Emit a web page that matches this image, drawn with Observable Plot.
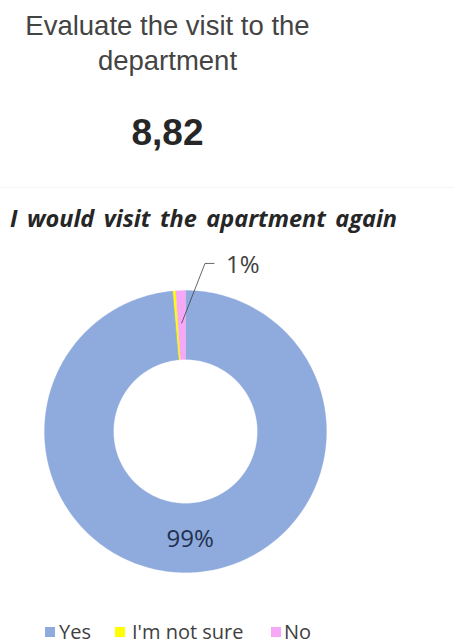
<!DOCTYPE html>
<html>
<head>
<meta charset="utf-8">
<script src="https://cdn.jsdelivr.net/npm/d3@7"></script>
<script src="https://cdn.jsdelivr.net/npm/@observablehq/plot@0.6"></script>
<style>
  html, body { margin: 0; padding: 0; background: #fff; }
  #page { position: relative; width: 454px; height: 644px; overflow: hidden; }
  .abs { position: absolute; white-space: nowrap; }
  #title { left: 0; width: 335px; top: 8px; text-align: center; font: 27.5px "Liberation Sans", Arial, sans-serif; line-height: 35px; color: #444; }
  #score { left: 0; width: 335px; top: 111px; text-align: center; font: bold 37px "Liberation Sans", Arial, sans-serif; line-height: 44px; color: #262626; }
  #rule { left: 0; top: 187px; width: 454px; height: 1px; background: #f4f4f4; }
  #subtitle { left: 10px; top: 202px; font: italic bold 23.5px "Open Sans", sans-serif; line-height: 32px; color: #262626; word-spacing: 3.3px; }
  #chart { left: 0; top: 250px; }
  .leg { position: absolute; font: 20px "Open Sans", sans-serif; color: #404040; line-height: 26px; top: 619px; }
  .sw { position: absolute; width: 10px; height: 10px; top: 627px; }
</style>
</head>
<body>
<div id="page">
  <div id="title" class="abs"></div>
  <div id="score" class="abs"></div>
  <div id="rule" class="abs"></div>
  <div id="subtitle" class="abs"></div>
  <div id="chart" class="abs"></div>
</div>
<script>
// ---- data ----
const titleLines = ["Evaluate the visit to the", "department"];
const scoreText = "8,82";
const subtitleText = "I would visit the apartment again";
const categories = ["Yes", "I'm not sure", "No"];
const values = [98.6, 0.3, 1.1];
const colors = ["#8FAADC", "#FFFF00", "#F6A8F6"];

// ---- header ----
document.getElementById("title").innerHTML = titleLines.join("<br>");
document.getElementById("score").textContent = scoreText;
document.getElementById("subtitle").textContent = subtitleText;

// ---- donut geometry from data ----
const innerR = 72 / 141;
const total = d3.sum(values);
const arcs = d3.pie().sort(null).value(d => d)(values); // starts at 12 o'clock, clockwise
const polar = (a, r) => ({x: r * Math.sin(a), y: r * Math.cos(a)});
const pts = [];
arcs.forEach((a, i) => {
  const n = Math.max(2, Math.ceil((a.endAngle - a.startAngle) / (Math.PI / 180)));
  for (let k = 0; k <= n; k++) {
    const t = a.startAngle + (a.endAngle - a.startAngle) * k / n;
    pts.push({cat: categories[i], ...polar(t, 1)});
  }
  for (let k = n; k >= 0; k--) {
    const t = a.startAngle + (a.endAngle - a.startAngle) * k / n;
    pts.push({cat: categories[i], ...polar(t, innerR)});
  }
});

// labels
const inside = [], outside = [], leaders = [];
arcs.forEach((a, i) => {
  const pct = Math.round(values[i] / total * 100);
  if (pct < 1) return;
  const mid = (a.startAngle + a.endAngle) / 2;
  const frac = (a.endAngle - a.startAngle) / (2 * Math.PI);
  if (frac > 0.1) {
    inside.push({label: pct + "%", ...polar(mid, (1 + innerR) / 2 + 0.01)});
  } else {
    const p0 = polar(mid, 0.77);
    const p1 = polar(mid + 0.15, 1.2);
    const p2 = {x: p1.x + 9 / 141, y: p1.y};
    leaders.push({id: i, ...p0}, {id: i, ...p1}, {id: i, ...p2});
    outside.push({label: pct + "%", x: p1.x + 21 / 141, y: p1.y - 2 / 141});
  }
});

const chart = Plot.plot({
  width: 454,
  height: 340,
  marginLeft: 44,
  marginRight: 128,
  marginTop: 40,
  marginBottom: 18,
  x: {domain: [-1, 1], axis: null},
  y: {domain: [-1, 1], axis: null},
  color: {domain: categories, range: colors},
  style: {background: "transparent", overflow: "visible"},
  marks: [
    Plot.line(pts, {x: "x", y: "y", z: "cat", fill: "cat", stroke: "cat", strokeWidth: 0.3, curve: "linear-closed"}),
    Plot.line(leaders, {x: "x", y: "y", z: "id", stroke: "#404040", strokeWidth: 0.8}),
    Plot.text(inside, {x: "x", y: "y", text: "label", fill: "#22314f", fontSize: 24, fontFamily: "Open Sans, sans-serif"}),
    Plot.text(outside, {x: "x", y: "y", text: "label", fill: "#404040", fontSize: 24, textAnchor: "start", fontFamily: "Open Sans, sans-serif"})
  ]
});
document.getElementById("chart").appendChild(chart);

// ---- legend ----
const page = document.getElementById("page");
const swX = [45, 115, 271];
const txX = [59, 132, 284];
categories.forEach((c, i) => {
  const sw = document.createElement("div");
  sw.className = "sw";
  sw.style.left = swX[i] + "px";
  sw.style.background = colors[i];
  page.appendChild(sw);
  const t = document.createElement("div");
  t.className = "leg";
  t.style.left = txX[i] + "px";
  t.textContent = c;
  page.appendChild(t);
});
</script>
</body>
</html>
